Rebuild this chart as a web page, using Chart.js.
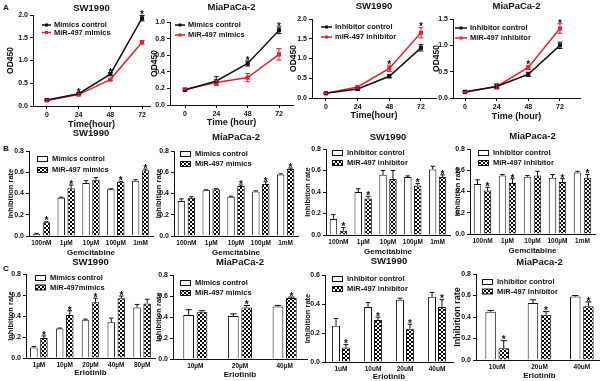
<!DOCTYPE html>
<html>
<head>
<meta charset="utf-8">
<script src="https://cdn.jsdelivr.net/npm/chart.js@4"></script>
<style>
html, body { margin: 0; padding: 0; background: #fff; }
body { width: 600px; height: 381px; position: relative; overflow: hidden; }
canvas { position: absolute; }
.tag { position: absolute; font: bold 8px "Liberation Sans", Arial, sans-serif; color: #111; }
</style>
</head>
<body>
<div class="tag" style="left:3px;top:3px">A</div>
<div class="tag" style="left:3px;top:144px">B</div>
<div class="tag" style="left:3px;top:264px">C</div>
<script>
// ---- data ----
// A: proliferation (OD450) over time
var hours = [0, 24, 48, 72];

var aSwMimCtrl = [0.13, 0.27, 0.70, 1.93], aSwMimCtrlErr = [0.02, 0.02, 0.03, 0.06];
var aSwMim = [0.12, 0.25, 0.58, 1.40], aSwMimErr = [0.02, 0.02, 0.02, 0.04];
var aSwMimStars = [1, 2, 3];

var aMiaMimCtrl = [0.18, 0.29, 0.50, 0.90], aMiaMimCtrlErr = [0.01, 0.05, 0.03, 0.04];
var aMiaMim = [0.19, 0.27, 0.33, 0.61], aMiaMimErr = [0.01, 0.03, 0.05, 0.07];
var aMiaMimStars = [2, 3];

var aSwInhCtrl = [0.12, 0.23, 0.55, 1.27], aSwInhCtrlErr = [0.01, 0.03, 0.04, 0.08];
var aSwInh = [0.12, 0.28, 0.75, 1.65], aSwInhErr = [0.01, 0.03, 0.08, 0.13];
var aSwInhStars = [2, 3];

var aMiaInhCtrl = [0.12, 0.22, 0.45, 1.00], aMiaInhCtrlErr = [0.01, 0.04, 0.04, 0.06];
var aMiaInh = [0.11, 0.22, 0.58, 1.32], aMiaInhErr = [0.01, 0.05, 0.04, 0.09];
var aMiaInhStars = [2, 3];

// B: gemcitabine inhibition rate
var gemDoses = ['100nM', '1\u00b5M', '10\u00b5M', '100\u00b5M', '1mM'];

var bSwMimCtrl = [0.02, 0.36, 0.50, 0.44, 0.52], bSwMimCtrlErr = [0.005, 0.005, 0.02, 0.005, 0.01];
var bSwMim = [0.13, 0.45, 0.53, 0.51, 0.62], bSwMimErr = [0.005, 0.03, 0.02, 0.005, 0.01];
var bSwMimStars = [0, 1, 3, 4];

var bMiaMimCtrl = [0.33, 0.43, 0.37, 0.42, 0.58], bMiaMimCtrlErr = [0.02, 0.005, 0.005, 0.005, 0.005];
var bMiaMim = [0.36, 0.44, 0.47, 0.49, 0.63], bMiaMimErr = [0.01, 0.005, 0.01, 0.02, 0.01];
var bMiaMimStars = [2, 3, 4];

var bSwInhCtrl = [0.15, 0.40, 0.56, 0.54, 0.61], bSwInhCtrlErr = [0.04, 0.03, 0.04, 0.01, 0.03];
var bSwInh = [0.04, 0.34, 0.52, 0.46, 0.54], bSwInhErr = [0.03, 0.02, 0.08, 0.02, 0.02];
var bSwInhStars = [0, 1, 3, 4];

var bMiaInhCtrl = [0.47, 0.55, 0.54, 0.53, 0.58], bMiaInhCtrlErr = [0.04, 0.01, 0.01, 0.03, 0.01];
var bMiaInh = [0.41, 0.48, 0.55, 0.49, 0.53], bMiaInhErr = [0.03, 0.04, 0.04, 0.03, 0.03];
var bMiaInhStars = [0, 1, 3, 4];

// C: erlotinib inhibition rate
var erlSwMimDoses = ['1\u00b5M', '10\u00b5M', '20\u00b5M', '40\u00b5M', '80\u00b5M'];
var cSwMimCtrl = [0.10, 0.28, 0.36, 0.34, 0.48], cSwMimCtrlErr = [0.01, 0.005, 0.01, 0.04, 0.03];
var cSwMim = [0.19, 0.41, 0.53, 0.57, 0.52], cSwMimErr = [0.02, 0.04, 0.04, 0.02, 0.04];
var cSwMimStars = [0, 1, 2, 3];

var erlMiaMimDoses = ['10\u00b5M', '20\u00b5M', '40\u00b5M'];
var cMiaMimCtrl = [0.42, 0.41, 0.50], cMiaMimCtrlErr = [0.05, 0.02, 0.01];
var cMiaMim = [0.45, 0.49, 0.58], cMiaMimErr = [0.01, 0.02, 0.01];
var cMiaMimStars = [1, 2];

var erlSwInhDoses = ['1uM', '10uM', '20uM', '40uM'];
var cSwInhCtrl = [0.25, 0.38, 0.43, 0.45], cSwInhCtrlErr = [0.05, 0.03, 0.01, 0.03];
var cSwInh = [0.10, 0.29, 0.23, 0.38], cSwInhErr = [0.02, 0.02, 0.03, 0.05];
var cSwInhStars = [0, 1, 2, 3];

var erlMiaInhDoses = ['10uM', '20uM', '40uM'];
var cMiaInhCtrl = [0.45, 0.53, 0.59], cMiaInhCtrlErr = [0.01, 0.03, 0.01];
var cMiaInh = [0.11, 0.42, 0.50], cMiaInhErr = [0.07, 0.03, 0.04];
var cMiaInhStars = [0, 1, 2];

// ---- styling ----
var FONT = '"Liberation Sans", Arial, sans-serif';
var INK = '#111111', RED = '#e8202a';
Chart.defaults.font.family = FONT;
Chart.defaults.font.weight = 'bold';
Chart.defaults.color = INK;
Chart.defaults.animation = false;

// checkered fill used for the miR-497 bars
var dots = (function () {
    var c = document.createElement('canvas');
    c.width = 4; c.height = 4;
    var g = c.getContext('2d');
    g.fillStyle = '#000'; g.fillRect(0, 0, 4, 4);
    g.fillStyle = '#fff'; g.fillRect(0, 0, 2, 2); g.fillRect(2, 2, 2, 2);
    return g.createPattern(c, 'repeat');
})();

// error bars, significance stars and the in-plot legend
var errorBars = {
    id: 'errorBars',
    afterDatasetsDraw: function (chart, args, opts) {
        var ctx = chart.ctx, ys = chart.scales.y, isBar = chart.config.type === 'bar';
        var tops = [];
        chart.data.datasets.forEach(function (ds, di) {
            var meta = chart.getDatasetMeta(di);
            meta.data.forEach(function (el, i) {
                var v = isBar ? ds.data[i] : ds.data[i].y, e = ds.errors[i];
                var yt = ys.getPixelForValue(v + e);
                var yb = isBar ? ys.getPixelForValue(v) : ys.getPixelForValue(v - e);
                var cap = isBar ? el.width * 0.3 : 2.5;
                ctx.save();
                ctx.strokeStyle = isBar ? INK : ds.borderColor;
                ctx.lineWidth = 1;
                ctx.beginPath();
                ctx.moveTo(el.x, yt); ctx.lineTo(el.x, yb);
                ctx.moveTo(el.x - cap, yt); ctx.lineTo(el.x + cap, yt);
                if (!isBar) { ctx.moveTo(el.x - cap, yb); ctx.lineTo(el.x + cap, yb); }
                ctx.stroke();
                ctx.restore();
                if (isBar ? di === 1 : (!tops[i] || yt < tops[i].y)) tops[i] = { x: el.x, y: yt };
            });
        });
        ctx.save();
        ctx.fillStyle = INK;
        ctx.font = 'bold 10px ' + FONT;
        ctx.textAlign = 'center';
        ctx.textBaseline = 'alphabetic';
        (opts.stars || []).forEach(function (i) {
            ctx.fillText('*', tops[i].x, tops[i].y - 1.5 + 10 * 0.43);
        });
        ctx.restore();

        // legend
        var lg = opts.legend, area = chart.chartArea;
        ctx.save();
        ctx.font = 'bold 7.5px ' + FONT;
        ctx.textBaseline = 'middle';
        ctx.textAlign = 'left';
        chart.data.datasets.forEach(function (ds, di) {
            var x = area.left + lg.dx, y = area.top + lg.dy + di * lg.row;
            if (isBar) {
                ctx.fillStyle = ds.backgroundColor;
                ctx.fillRect(x, y - 2.5, 10, 5);
                ctx.strokeStyle = INK; ctx.lineWidth = 1;
                ctx.strokeRect(x + 0.5, y - 2.5, 10, 5);
                ctx.fillStyle = INK;
                ctx.fillText(ds.label, x + 15, y);
            } else {
                ctx.strokeStyle = ds.borderColor; ctx.lineWidth = 1.5;
                ctx.beginPath(); ctx.moveTo(x, y); ctx.lineTo(x + lg.w, y); ctx.stroke();
                ctx.fillStyle = ds.borderColor;
                ctx.fillRect(x + lg.w / 2 - 1.5, y - 1.5, 3, 3);
                ctx.fillStyle = INK;
                ctx.fillText(ds.label, x + lg.w + 3, y);
            }
        });
        ctx.restore();
    }
};

var panels = [
    { kind: 'line', L: 33, T: 15, R: 150, B: 106, titleY: 9, xTitleY: 125, yTitleX: 11,
      legend: { dx: 9, dy: 10, row: 7.5, w: 9 },
      title: 'SW1990', xTitle: 'Time(hour)', yTitle: 'OD450', yMax: 2, yStep: 0.5, xMin: -10.5, xMax: 78,
      names: ['Mimics control', 'MiR-497 mimics'], ctrl: aSwMimCtrl, ctrlErr: aSwMimCtrlErr,
      treat: aSwMim, treatErr: aSwMimErr, stars: aSwMimStars },
    { kind: 'line', L: 170, T: 22, R: 293, B: 105, titleY: 8, xTitleY: 123, yTitleX: 155,
      legend: { dx: 5, dy: 3, row: 10, w: 10 },
      title: 'MiaPaCa-2', xTitle: 'Time (hour)', yTitle: 'OD450', yMax: 1, yStep: 0.2, xMin: -11.5, xMax: 82.7,
      names: ['Mimics control', 'MiR-497 mimics'], ctrl: aMiaMimCtrl, ctrlErr: aMiaMimCtrlErr,
      treat: aMiaMim, treatErr: aMiaMimErr, stars: aMiaMimStars },
    { kind: 'line', L: 312, T: 19, R: 436, B: 98, titleY: 7, xTitleY: 116, yTitleX: 294,
      legend: { dx: 9, dy: 8, row: 10, w: 11 },
      title: 'SW1990', xTitle: 'Time(hour)', yTitle: 'OD450', yMax: 2, yStep: 0.5, xMin: -10.6, xMax: 83.4,
      names: ['Inhibitor control', 'miR-497 inhibitor'], ctrl: aSwInhCtrl, ctrlErr: aSwInhCtrlErr,
      treat: aSwInh, treatErr: aSwInhErr, stars: aSwInhStars },
    { kind: 'line', L: 453, T: 19, R: 580, B: 98, titleY: 7, xTitleY: 117, yTitleX: 437,
      legend: { dx: 2, dy: 9, row: 10, w: 12 },
      title: 'MiaPaCa-2', xTitle: 'Time (hour)', yTitle: 'OD450', yMax: 1.5, yStep: 0.5, xMin: -9.1, xMax: 87.2,
      names: ['Inhibitor control', 'MiR-497 inhibitor'], ctrl: aMiaInhCtrl, ctrlErr: aMiaInhCtrlErr,
      treat: aMiaInh, treatErr: aMiaInhErr, stars: aMiaInhStars },

    { kind: 'bar', L: 29, T: 151, R: 153, B: 236, titleY: 134, xTitleY: 253, yTitleX: 10,
      legend: { dx: 8, dy: 8, row: 11 },
      title: 'SW1990', xTitle: 'Gemcitabine', yTitle: 'Inhibition rate', yMax: 0.8, yStep: 0.2,
      cats: gemDoses, catPct: 0.8, barPct: 0.75,
      names: ['Mimics control', 'MiR-497 mimics'], ctrl: bSwMimCtrl, ctrlErr: bSwMimCtrlErr,
      treat: bSwMim, treatErr: bSwMimErr, stars: bSwMimStars },
    { kind: 'bar', L: 174, T: 151, R: 298, B: 236, titleY: 138, xTitleY: 253, yTitleX: 158,
      legend: { dx: 6, dy: 3, row: 10 },
      title: 'MiaPaCa-2', xTitle: 'Gemcitabine', yTitle: 'Inhibition rate', yMax: 0.8, yStep: 0.2,
      cats: gemDoses, catPct: 0.8, barPct: 0.75,
      names: ['Mimics control', 'MiR-497 mimics'], ctrl: bMiaMimCtrl, ctrlErr: bMiaMimCtrlErr,
      treat: bMiaMim, treatErr: bMiaMimErr, stars: bMiaMimStars },
    { kind: 'bar', L: 326, T: 149, R: 450, B: 235, titleY: 138, xTitleY: 252, yTitleX: 307,
      legend: { dx: 6, dy: 4, row: 10 },
      title: 'SW1990', xTitle: 'Gemcitabine', yTitle: 'Inhibition rate', yMax: 0.8, yStep: 0.2,
      cats: gemDoses, catPct: 0.8, barPct: 0.75,
      names: ['Inhibitor control', 'MiR-497 inhibitor'], ctrl: bSwInhCtrl, ctrlErr: bSwInhCtrlErr,
      treat: bSwInh, treatErr: bSwInhErr, stars: bSwInhStars },
    { kind: 'bar', L: 470, T: 149, R: 595, B: 234, titleY: 137, xTitleY: 251, yTitleX: 457,
      legend: { dx: 8, dy: 4, row: 10 },
      title: 'MiaPaca-2', xTitle: 'Gemcitabine', yTitle: 'Inhibition rate', yMax: 0.8, yStep: 0.2,
      cats: gemDoses, catPct: 0.8, barPct: 0.75,
      names: ['Inhibitor control', 'MiR-497 inhibitor'], ctrl: bMiaInhCtrl, ctrlErr: bMiaInhCtrlErr,
      treat: bMiaInh, treatErr: bMiaInhErr, stars: bMiaInhStars },

    { kind: 'bar', L: 26, T: 274, R: 155, B: 358, titleY: 263, xTitleY: 373, yTitleX: 10,
      legend: { dx: 9, dy: 4, row: 9.5 },
      title: 'SW1990', xTitle: 'Erlotinib', yTitle: 'Inhibition rate', yMax: 0.8, yStep: 0.2,
      cats: erlSwMimDoses, catPct: 0.78, barPct: 0.75,
      names: ['Mimics control', 'MiR-497mimics'], ctrl: cSwMimCtrl, ctrlErr: cSwMimCtrlErr,
      treat: cSwMim, treatErr: cSwMimErr, stars: cSwMimStars },
    { kind: 'bar', L: 173, T: 275, R: 307, B: 359, titleY: 263, xTitleY: 375, yTitleX: 158,
      legend: { dx: 7, dy: 8, row: 10 },
      title: 'MiaPaCa-2', xTitle: 'Erlotinib', yTitle: 'Inhibition rate', yMax: 0.8, yStep: 0.2,
      cats: erlMiaMimDoses, catPct: 0.6, barPct: 0.8,
      names: ['Mimics control', 'MiR-497 mimics'], ctrl: cMiaMimCtrl, ctrlErr: cMiaMimCtrlErr,
      treat: cMiaMim, treatErr: cMiaMimErr, stars: cMiaMimStars },
    { kind: 'bar', L: 325, T: 275, R: 453, B: 362, titleY: 262, xTitleY: 377, yTitleX: 307,
      legend: { dx: 7, dy: 4, row: 10 },
      title: 'SW1990', xTitle: 'Erlotinib', yTitle: 'Inhibition rate', yMax: 0.6, yStep: 0.2,
      cats: erlSwInhDoses, catPct: 0.62, barPct: 0.8,
      names: ['Inhibitor control', 'MiR-497 inhibitor'], ctrl: cSwInhCtrl, ctrlErr: cSwInhCtrlErr,
      treat: cSwInh, treatErr: cSwInhErr, stars: cSwInhStars },
    { kind: 'bar', L: 476, T: 274, R: 603, B: 360, titleY: 263, xTitleY: 376, yTitleX: 457, yFont: 9,
      legend: { dx: 6, dy: 8, row: 9.5 },
      title: 'MiaPaca-2', xTitle: 'Erlotinib', yTitle: 'Inhibition rate', yMax: 0.8, yStep: 0.2,
      cats: erlMiaInhDoses, catPct: 0.62, barPct: 0.8,
      names: ['Inhibitor control', 'MiR-497 inhibitor'], ctrl: cMiaInhCtrl, ctrlErr: cMiaInhCtrlErr,
      treat: cMiaInh, treatErr: cMiaInhErr, stars: cMiaInhStars }
];

function build(p) {
    var isLine = p.kind === 'line';
    var tFs = 9.5, yFs = p.yFont || (isLine ? 8.5 : 7.5), xFs = isLine ? 9 : 8;
    var l = Math.round(p.yTitleX - yFs * 0.6);
    var t = Math.round(p.titleY - 1 - tFs * 0.6);
    var r = Math.round(p.R + 8);
    var b = Math.round(p.xTitleY + xFs * 0.6);
    var yw = p.L - l, xh = b - p.B;

    var cv = document.createElement('canvas');
    cv.width = r - l; cv.height = b - t;
    cv.style.left = l + 'px'; cv.style.top = t + 'px';
    document.body.appendChild(cv);

    var datasets;
    if (isLine) {
        var pts = function (arr) { return hours.map(function (h, i) { return { x: h, y: arr[i] }; }); };
        datasets = [
            { label: p.names[0], data: pts(p.ctrl), errors: p.ctrlErr, borderColor: INK, backgroundColor: INK },
            { label: p.names[1], data: pts(p.treat), errors: p.treatErr, borderColor: RED, backgroundColor: RED }
        ].map(function (d) {
            d.borderWidth = 1.5; d.pointStyle = 'rect'; d.pointRadius = 1.8;
            d.pointBackgroundColor = d.borderColor; d.tension = 0;
            return d;
        });
    } else {
        datasets = [
            { label: p.names[0], data: p.ctrl, errors: p.ctrlErr, backgroundColor: '#fff' },
            { label: p.names[1], data: p.treat, errors: p.treatErr, backgroundColor: dots }
        ].map(function (d) {
            d.borderColor = INK; d.borderWidth = 1;
            d.barPercentage = p.barPct; d.categoryPercentage = p.catPct;
            return d;
        });
    }

    var tickGrid = { drawOnChartArea: false, tickLength: 3, color: INK, lineWidth: 1 };
    var xScale = isLine ? {
        type: 'linear', min: p.xMin, max: p.xMax,
        afterBuildTicks: function (s) { s.ticks = hours.map(function (h) { return { value: h }; }); },
        ticks: { font: { size: 7 }, padding: 2, callback: function (v) { return v; } },
        grid: tickGrid
    } : {
        type: 'category',
        ticks: { font: { size: 6.5 }, padding: 3, autoSkip: false, maxRotation: 0 },
        grid: { display: false, drawTicks: false, tickLength: 0 }
    };
    xScale.border = { color: INK, width: 1 };
    xScale.title = { display: true, text: p.xTitle, font: { size: xFs }, padding: 0 };
    xScale.afterFit = function (s) { s.height = xh; };

    new Chart(cv, {
        type: isLine ? 'line' : 'bar',
        data: { labels: isLine ? undefined : p.cats, datasets: datasets },
        plugins: [errorBars],
        options: {
            responsive: false,
            devicePixelRatio: 1,
            events: [],
            layout: { padding: { left: 0, top: 0, right: r - p.R, bottom: 0 } },
            scales: {
                x: xScale,
                y: {
                    min: 0, max: p.yMax,
                    ticks: { stepSize: p.yStep, font: { size: 7 }, padding: 2,
                             callback: function (v) { return v.toFixed(1); } },
                    grid: tickGrid,
                    border: { color: INK, width: 1 },
                    title: { display: true, text: p.yTitle, font: { size: yFs }, padding: 0 },
                    afterFit: function (s) { s.width = yw; }
                }
            },
            plugins: {
                title: { display: true, text: p.title, fullSize: false, font: { size: tFs },
                         padding: { top: 1, bottom: Math.max(0, p.T - t - 1 - tFs * 1.2) } },
                legend: { display: false },
                tooltip: { enabled: false },
                errorBars: { stars: p.stars, legend: p.legend }
            }
        }
    });
}

panels.forEach(build);
</script>
</body>
</html>
